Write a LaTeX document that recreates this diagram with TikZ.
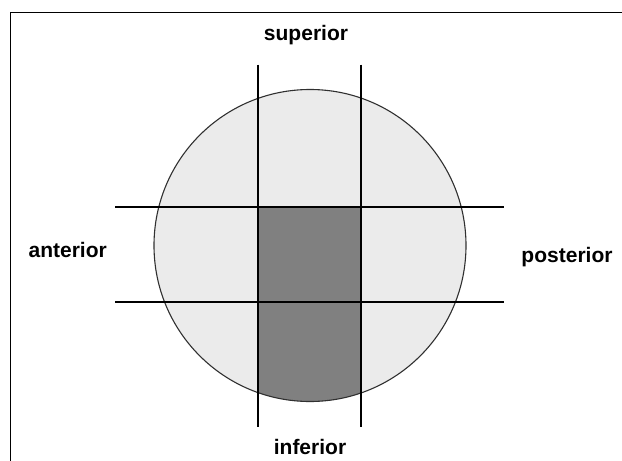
\documentclass[tikz,border=0pt]{standalone}
\usepackage{fontspec}
\setmainfont{Liberation Sans}
\definecolor{lightfill}{HTML}{EBEBEB}
\definecolor{darkfill}{HTML}{808080}
\definecolor{rimcol}{HTML}{303030}
\tikzset{
  lbl/.style={anchor=base, font=\bfseries\fontsize{21}{25}\selectfont, inner sep=0pt},
  gridline/.style={line width=2pt, black},
  frameline/.style={line width=1.4pt, black},
}
\begin{document}
\begin{tikzpicture}[x=1pt,y=-1pt]
\useasboundingbox (0,0) rectangle (622,461);
% frame (top and left only)
\coordinate (fTR) at (622,12.5);
\coordinate (fTL) at (10.5,12.5);
\coordinate (fBL) at (10.5,461);
\draw[frameline] (fTR) -- (fTL) -- (fBL);
% disc
\coordinate (ctr) at (310,245.5);
\fill[lightfill] (ctr) circle[radius=156];
\begin{scope}
  \clip (ctr) circle[radius=156];
  \fill[darkfill] (258,207) rectangle (361,410);
\end{scope}
\draw[rimcol, line width=1.1pt] (ctr) circle[radius=156];
% grid lines
\coordinate (v1t) at (258,64.5);  \coordinate (v1b) at (258,427);
\coordinate (v2t) at (361,64.5);  \coordinate (v2b) at (361,427);
\coordinate (h1l) at (115,207); \coordinate (h1r) at (504,207);
\coordinate (h2l) at (115,302); \coordinate (h2r) at (504,302);
\draw[gridline] (v1t) -- (v1b);
\draw[gridline] (v2t) -- (v2b);
\draw[gridline] (h1l) -- (h1r);
\draw[gridline] (h2l) -- (h2r);
% labels
\node[lbl] (sup) at (306,40.5) {superior};
\node[lbl] (ant) at (67.7,257.3) {anterior};
\node[lbl] (pos) at (567,262.7) {posterior};
\node[lbl] (inf) at (310,454) {inferior};
\end{tikzpicture}
\end{document}
